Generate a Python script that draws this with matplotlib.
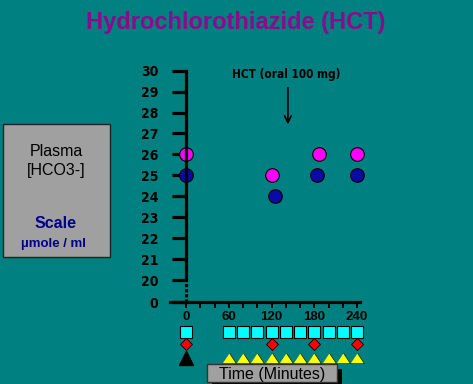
import numpy as np
import matplotlib
matplotlib.use('Agg')
import matplotlib.pyplot as plt
from matplotlib.patches import Rectangle

# data
pink_t = [0, 120, 187, 240]
pink_v = [26, 25, 26, 26]
blue_t = [0, 125, 184, 240]
blue_v = [25, 24, 25, 25]

y_ticks = [0, 20, 21, 22, 23, 24, 25, 26, 27, 28, 29, 30]
x_major = [0, 60, 120, 180, 240]
x_minor = list(range(0, 241, 20))

square_t = [0, 60, 80, 100, 120, 140, 160, 180, 200, 220, 240]
diamond_t = [0, 120, 180, 240]
black_tri_t = [0]
yellow_tri_t = [60, 80, 100, 120, 140, 160, 180, 200, 220, 240]

TEAL = '#008080'
GRAY = '#a0a0a0'
NAVY = '#00008c'

W, H = 473, 384
BREAK = 18.95  # where the "0" of the broken axis sits


def ypos(v):
    return v if v >= 20 else BREAK


def fbox(x0, y0, x1, y1):
    # pixel box (top-left origin) -> figure rect
    return [x0 / W, 1 - y1 / H, (x1 - x0) / W, (y1 - y0) / H]


fs = ['Liberation Sans', 'DejaVu Sans']

fig = plt.figure(figsize=(W / 100, H / 100), dpi=100, facecolor=TEAL)

# main axes
ax = fig.add_axes(fbox(170, 60, 362, 302))
ax.set_facecolor(TEAL)
ax.set_xlim(-22.5, 247)
ax.set_ylim(BREAK, 30.51)

for s in ['top', 'right']:
    ax.spines[s].set_visible(False)
ax.spines['left'].set_position(('data', 0))
ax.spines['left'].set_bounds(20, 30)
ax.spines['left'].set_linewidth(2.3)
ax.spines['bottom'].set_bounds(-22.5, 244)
ax.spines['bottom'].set_linewidth(2.3)
ax.plot([0, 0], [BREAK, 20], color='black', lw=2.3, ls=(0, (1, 0.6)), clip_on=False)

ax.set_yticks([ypos(v) for v in y_ticks])
ax.set_yticklabels([str(v) for v in y_ticks], family='DejaVu Sans', fontstretch='condensed',
                   fontweight='bold', fontsize=10)
ax.tick_params(axis='y', direction='out', length=10, width=2.3, pad=10)

ax.set_xticks(x_major)
ax.set_xticks(x_minor, minor=True)
ax.set_xticklabels([str(v) for v in x_major], family=fs, fontweight='bold', fontsize=9.5)
ax.tick_params(axis='x', which='both', direction='out', length=4.5, width=1.4, pad=2)

ax.plot(pink_t, pink_v, 'o', ms=9.8, mfc='#ff00ff', mec='black', mew=0.8, clip_on=False)
ax.plot(blue_t, blue_v, 'o', ms=9.8, mfc='#0a0aa5', mec='black', mew=0.8, clip_on=False)

ax.annotate('', xy=(143, 27.3), xytext=(143, 29.32),
            arrowprops=dict(arrowstyle='->', color='black', lw=1.2, mutation_scale=12))
ax.text(65, 29.8, 'HCT (oral 100 mg)', ha='left', va='center', fontsize=8.5,
        fontweight='bold', family='DejaVu Sans', fontstretch='condensed')

# marker strip below the axis
sx = fig.add_axes(fbox(170, 322, 362, 366))
sx.set_xlim(-22.5, 247)
sx.set_ylim(44, 0)
sx.axis('off')
sx.plot(square_t, [9.5] * len(square_t), 's', ms=9.3, mfc='#00ffff', mec='black', mew=0.8, clip_on=False)
sx.plot(diamond_t, [21.5] * len(diamond_t), 'D', ms=6.2, mfc='#ff0000', mec='black', mew=0.6, clip_on=False)
sx.plot(black_tri_t, [36] * len(black_tri_t), '^', ms=10, mfc='black', mec='black', clip_on=False)
tri = [(-1, -0.75), (1, -0.75), (0, 0.75)]
sx.plot(yellow_tri_t, [35.5] * len(yellow_tri_t), marker=tri, ls='none', ms=10,
        mfc='#ffff00', mec='black', mew=0.4, clip_on=False)

# title
fig.text(236 / W, 1 - 22 / H, 'Hydrochlorothiazide (HCT)', ha='center', va='center',
         fontsize=17, fontweight='bold', color='#8c0a8c', family=fs)

# left label box
fig.patches.append(Rectangle(fbox(3, 124, 110, 257)[:2], 107 / W, 133 / H, transform=fig.transFigure,
                             facecolor=GRAY, edgecolor='#222222', lw=1))
fig.text(56 / W, 1 - 152 / H, 'Plasma', ha='center', va='center', fontsize=11.5, family=fs)
fig.text(56 / W, 1 - 171 / H, '[HCO3-]', ha='center', va='center', fontsize=11.5, family=fs)
fig.text(56 / W, 1 - 224 / H, 'Scale', ha='center', va='center', fontsize=11.5, fontweight='bold',
         color=NAVY, family=fs)
fig.text(53 / W, 1 - 244 / H, 'µmole / ml', ha='center', va='center', fontsize=9.5, fontweight='bold',
         color=NAVY, family=fs)

# time label box with shadow
fig.patches.append(Rectangle(fbox(212, 369, 342, 390)[:2], 130 / W, 21 / H, transform=fig.transFigure,
                             facecolor='black', edgecolor='none'))
fig.patches.append(Rectangle(fbox(207, 364, 337, 382)[:2], 130 / W, 18 / H, transform=fig.transFigure,
                             facecolor=GRAY, edgecolor='#333333', lw=1))
fig.text(272 / W, 1 - 374 / H, 'Time (Minutes)', ha='center', va='center', fontsize=11.5, family=fs)

plt.savefig('out.png', dpi=100, facecolor=TEAL)
